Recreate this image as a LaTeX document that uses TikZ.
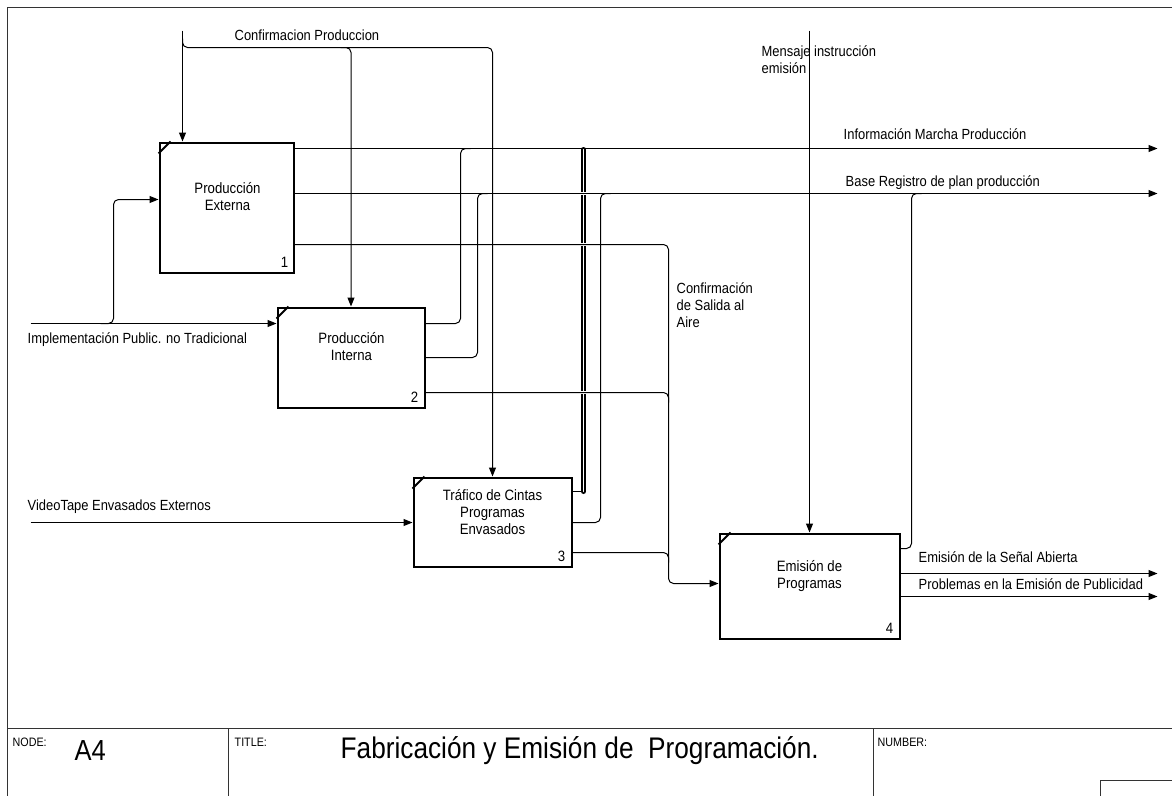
\documentclass[tikz,border=0pt]{standalone}
\usepackage{fontspec}
\setmainfont{Liberation Sans}
\newfontfamily\narrowsans[FakeStretch=0.88]{Liberation Sans}
\usetikzlibrary{arrows.meta}
\begin{document}
\begin{tikzpicture}[x=1pt,y=-1pt,
  func/.style={draw, line width=2pt, inner sep=0pt},
  corner/.style={line width=2pt},
  boxtext/.style={align=center, inner sep=0pt, font=\narrowsans\fontsize{15}{17}\selectfont},
  num/.style={inner sep=0pt, font=\narrowsans\fontsize{15}{15}\selectfont},
  lbl/.style={anchor=west, inner sep=0pt, align=left, font=\narrowsans\fontsize{14.7}{17}\selectfont},
  link/.style={line width=1pt, rounded corners=5pt},
  flow/.style={link, -{Triangle[length=9pt,width=7pt]}},
  dbl/.style={double, line width=2pt, double distance=1pt, line cap=round},
  frame/.style={line width=1.6pt, black!80},
  small/.style={anchor=west, inner sep=0pt, font=\narrowsans\fontsize{12.2}{12}\selectfont},
]
\useasboundingbox (0,0) rectangle (1172,795);

\begin{scope}[shift={(0.5,0.5)}]
% sheet frame and title block
\draw[frame] (1172,7) -- (7,7) -- (7,795);
\draw[frame] (7,728) -- (1172,728);
\draw[frame] (228,728) -- (228,795);
\draw[frame] (873,728) -- (873,795);
\draw[frame] (1172,780) -- (1100,780) -- (1100,795);
\node[small] (nodelbl) at (12,742) {NODE:};
\node[anchor=west, inner sep=0pt, font=\narrowsans\fontsize{29}{30}\selectfont] (nodeid) at (74,750) {A4};
\node[small] (titlelbl) at (234,742) {TITLE:};
\node[anchor=west, inner sep=0pt, font=\narrowsans\fontsize{29.8}{30}\selectfont] (title) at (340,750) {Fabricación y Emisión de\ \ Programación.};
\node[small] (numlbl) at (877,742) {NUMBER:};

% activity boxes
\node[func, minimum width=134pt, minimum height=130pt] (b1) at (226,207) {};
\node[func, minimum width=147pt, minimum height=100pt] (b2) at (350.5,357) {};
\node[func, minimum width=158pt, minimum height=89pt] (b3) at (492,521.5) {};
\node[func, minimum width=180pt, minimum height=105pt] (b4) at (809,585.5) {};
\foreach \b in {b1,b2,b3,b4}
  \draw[corner] ([yshift=-12pt]\b.north west) -- ([xshift=12pt]\b.north west);

\node[boxtext] (t1) at (227,196) {Producción\\Externa};
\node[boxtext] (t2) at (351,346) {Producción\\Interna};
\node[boxtext] (t3) at (492,512) {Tráfico de Cintas\\Programas\\Envasados};
\node[boxtext] (t4) at (809,576) {Emisión de\\Programas};
\node[num] (n1) at (284,262) {1};
\node[num] (n2) at (414,397) {2};
\node[num] (n3) at (561,556) {3};
\node[num] (n4) at (889,628) {4};

% bundled output of box 3 running up to the top output line
\draw[dbl] (583,491) -- (583,149);
\foreach \yy in {193,244,392}
  \fill[white] (580,\yy-1.8) rectangle (586.5,\yy+1.8);
\draw[link] (b3.east |- 0,491) -- (580,491);

% free ends
\coordinate (cp) at (182,30);
\coordinate (mi) at (809,30);
\coordinate (ip) at (30,323);
\coordinate (vt) at (30,522);
\coordinate (imp) at (1157,148);
\coordinate (brp) at (1157,193);
\coordinate (esa) at (1157,573);
\coordinate (pep) at (1157,596);

% controls
\draw[flow] (cp) -- (cp |- b1.north);
\draw[flow] (182,38) -- (182,47) -- (b2.north |- 0,47) -- (b2.north);
\draw[flow] (340,47) -- (b3.north |- 0,47) -- (b3.north);
\draw[flow] (mi) -- (mi |- b4.north);

% inputs
\draw[flow] (ip) -- (ip -| b2.west);
\draw[flow] (100,323) -- (113,323) -- (113,199) -- (b1.west |- 0,199);
\draw[flow] (vt) -- (vt -| b3.west);

% outputs of box 1
\draw[flow] (b1.east |- imp) -- (imp);
\draw[flow] (b1.east |- brp) -- (brp);
\draw[flow] (b1.east |- 0,244) -- (668,244) -- (668,583) -- (b4.west |- 0,583);

% outputs of box 2
\draw[link] (b2.east |- 0,323) -- (460,323) -- (460,148) -- (470,148);
\draw[link] (b2.east |- 0,357) -- (477,357) -- (477,193) -- (487,193);
\draw[link] (b2.east |- 0,392) -- (668,392) -- (668,402);

% outputs of box 3
\draw[link] (b3.east |- 0,522) -- (600,522) -- (600,193) -- (610,193);
\draw[link] (b3.east |- 0,552) -- (668,552) -- (668,562);

% outputs of box 4
\draw[link] (b4.east |- 0,548) -- (911,548) -- (911,193) -- (921,193);
\draw[flow] (b4.east |- esa) -- (esa);
\draw[flow] (b4.east |- pep) -- (pep);

% arrow labels
\node[lbl] (l1) at (234,35) {Confirmacion Produccion};
\node[lbl, anchor=north west] (l2) at (761,45) {Mensaje instrucción\\emisión};
\node[lbl] (l3) at (843,134) {Información Marcha Producción};
\node[lbl] (l4) at (845,182) {Base Registro de plan producción};
\node[lbl] (l5) at (27,339) {Implementación Public. no Tradicional};
\node[lbl] (l6) at (27,506) {VideoTape Envasados Externos};
\node[lbl, anchor=north west] (l7) at (676,282) {Confirmación\\de Salida al\\Aire};
\node[lbl] (l8) at (918,557) {Emisión de la Señal Abierta};
\node[lbl] (l9) at (918,584) {Problemas en la Emisión de Publicidad};
\end{scope}
\end{tikzpicture}
\end{document}
